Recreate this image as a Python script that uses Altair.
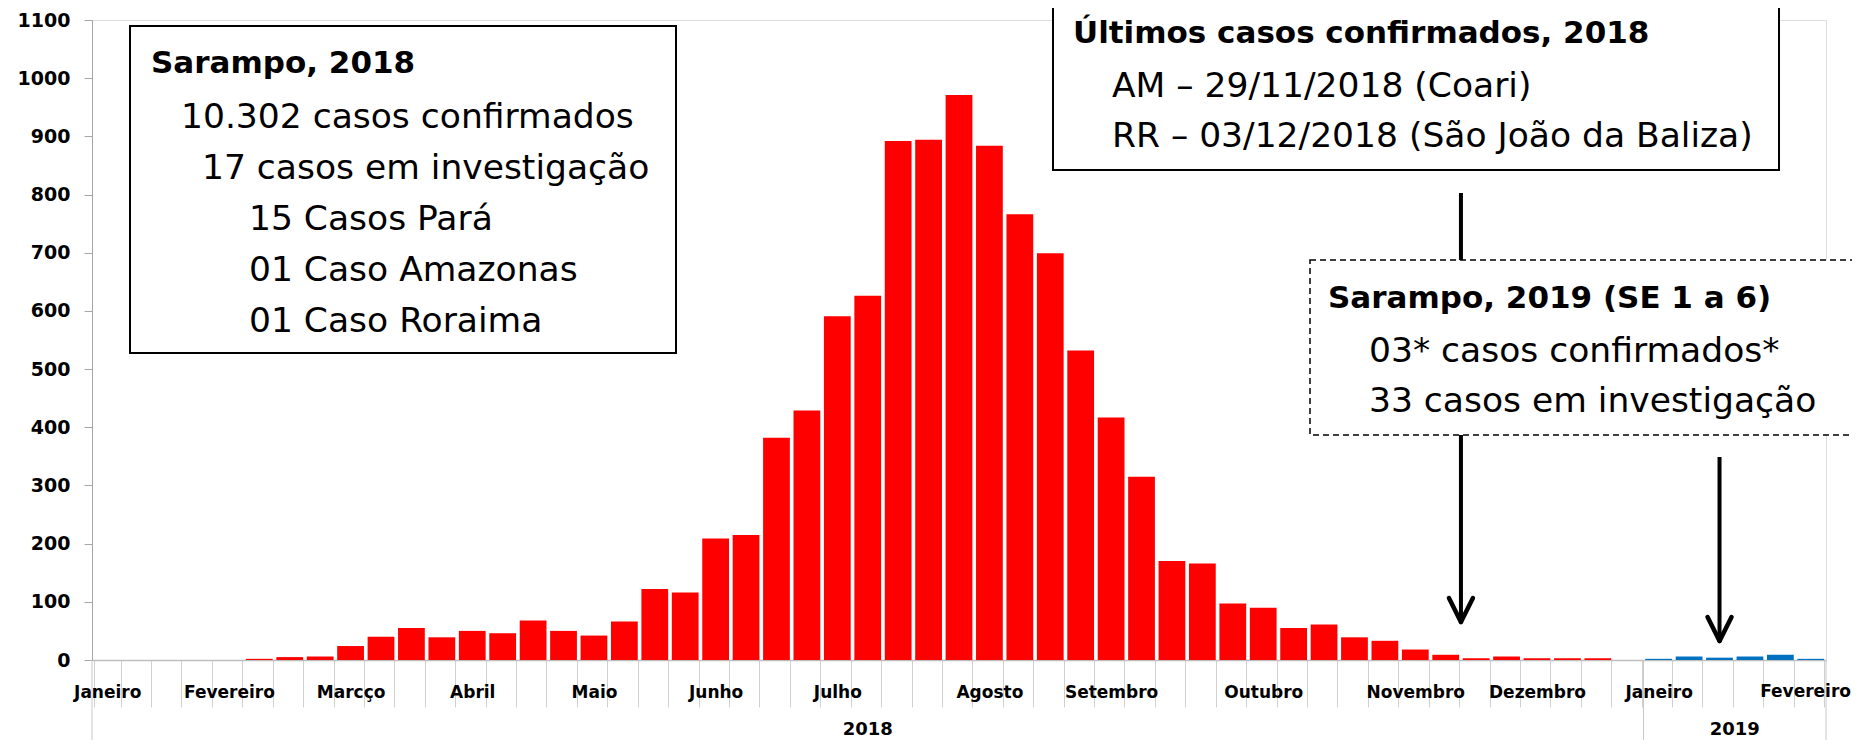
import altair as alt
import pandas as pd

# ---------------- data ----------------
cases_2018 = [0, 0, 0, 0, 0, 2, 5, 6, 24, 40,
              55, 39, 50, 46, 68, 50, 42, 66, 122, 116,
              209, 215, 382, 429, 591, 626, 892, 894, 971, 884,
              766, 699, 532, 417, 315, 170, 166, 97, 90, 55,
              61, 39, 33, 18, 9, 3, 6, 3, 3, 3, 0]
cases_2019 = [2, 6, 4, 6, 9, 2]

month_names_2018 = ["Janeiro", "Fevereiro", "Marcço", "Abril", "Maio", "Junho",
                    "Julho", "Agosto", "Setembro", "Outubro", "Novembro", "Dezembro"]
month_pos_2018 = [0, 4, 8, 12, 16, 20, 24, 29, 33, 38, 43, 47]
month_names_2019 = ["Janeiro", "Fevereiro"]
month_pos_2019 = [0, 5]

years = ["2018", "2019"]
year_colors = ["#FF0000", "#0070C0"]
y_ticks = list(range(0, 1101, 100))

box1_lines = ["Sarampo, 2018", "10.302 casos confirmados", "17 casos em investigação",
              "15 Casos Pará", "01 Caso Amazonas", "01 Caso Roraima"]
box2_lines = ["Últimos casos confirmados, 2018", "AM – 29/11/2018 (Coari)",
              "RR – 03/12/2018 (São João da Baliza)"]
box3_lines = ["Sarampo, 2019 (SE 1 a 6)", "03* casos confirmados*", "33 casos em investigação"]

# ---------------- table ----------------
rows = []
idx = 0
for year, vals, pos, names in [("2018", cases_2018, month_pos_2018, month_names_2018),
                               ("2019", cases_2019, month_pos_2019, month_names_2019)]:
    lab = dict(zip(pos, names))
    for i, v in enumerate(vals):
        rows.append({"key": f"{idx:02d}|{lab.get(i, '')}", "idx": idx, "cases": v, "year": year,
                     "month": lab.get(i, "")})
        idx += 1
df = pd.DataFrame(rows)
keys = list(df["key"])
last_key = keys[-1]

# ---------------- layout ----------------
W, H = 1734, 640
N = len(df)
STEP = W / N
PAD = {"left": 84, "top": 12, "right": 26, "bottom": 80}
FONT = "DejaVu Sans"
XLAB = 17
XLAB_OFF = 24

bars = alt.Chart(df).mark_bar().encode(
    x=alt.X("key:N", sort=keys,
            scale=alt.Scale(paddingInner=0.12, paddingOuter=0.06),
            axis=alt.Axis(title=None,
                          labelExpr=f"datum.value == '{last_key}' ? '' : split(datum.value, '|')[1]",
                          labelAngle=0,
                          labelFont=FONT, labelFontWeight="bold", labelFontSize=XLAB,
                          labelColor="black", labelPadding=XLAB_OFF - 47, labelOverlap=False,
                          labelFlush=False, labelBound=False,
                          tickBand="extent", tickSize=47, tickColor="#d0d0d0", tickWidth=1,
                          domainColor="#bfbfbf", domainWidth=1.5)),
    y=alt.Y("cases:Q", scale=alt.Scale(domain=[0, 1100], nice=False),
            axis=alt.Axis(title=None, values=y_ticks, format="d", grid=False, tickSize=8,
                          tickColor="#a6a6a6", domainColor="#a6a6a6",
                          labelFont=FONT, labelFontWeight="bold", labelFontSize=19,
                          labelColor="black", labelPadding=14)),
    color=alt.Color("year:N", scale=alt.Scale(domain=years, range=year_colors), legend=None),
)

# last month label, kept inside the canvas edge
last_df = df.tail(1)[["month"]].assign(x=W + PAD["right"] - 1)
last_label = alt.Chart(last_df).mark_text(font=FONT, fontWeight="bold", fontSize=XLAB,
                                          align="right", baseline="top", color="black").encode(
    x=alt.X("x:Q", scale=None), y=alt.value(H + XLAB_OFF), text="month:N")

n18 = len(cases_2018)
n19 = len(cases_2019)
bottom_y = H + PAD["bottom"]

# year row separators (y-axis extension, 2018/2019 split, right end)
sep_df = pd.DataFrame({"x": [0, STEP * n18, STEP * (n18 + n19)]})
seps = alt.Chart(sep_df).mark_rule(color="#c8c8c8", strokeWidth=1).encode(
    x=alt.X("x:Q", scale=None), y=alt.value(H), y2=alt.value(bottom_y))

year_df = pd.DataFrame({"year": years, "x": [STEP * n18 / 2, STEP * (n18 + n19 / 2)]})
year_text = alt.Chart(year_df).mark_text(font=FONT, fontWeight="bold", fontSize=18,
                                         baseline="alphabetic", align="center", color="black").encode(
    x=alt.X("x:Q", scale=None), y=alt.value(H + 75), text="year:N")

# arrows
a1x = STEP * 45
a2x = STEP * 53.5
shaft_df = pd.DataFrame({"x": [a1x, a2x], "y": [173, 437], "y2": [600, 618]})
shafts = alt.Chart(shaft_df).mark_rule(color="black", strokeWidth=4).encode(
    x=alt.X("x:Q", scale=None), y=alt.Y("y:Q", scale=None), y2="y2:Q")

head_df = pd.DataFrame({
    "x": [a1x - 12, a1x + 12, a2x - 12, a2x + 12],
    "x2": [a1x, a1x, a2x, a2x],
    "y": [578, 578, 597, 597],
    "y2": [602, 602, 621, 621],
})
heads = alt.Chart(head_df).mark_rule(color="black", strokeWidth=4.5, strokeCap="round").encode(
    x=alt.X("x:Q", scale=None), x2="x2:Q", y=alt.Y("y:Q", scale=None), y2="y2:Q")

# boxes
box_df = pd.DataFrame({"x": [38, 961], "x2": [584, 1687], "y": [6, -30], "y2": [333, 150]})
boxes = alt.Chart(box_df).mark_rect(fill="white", stroke="black", strokeWidth=2).encode(
    x=alt.X("x:Q", scale=None), x2="x2:Q", y=alt.Y("y:Q", scale=None), y2="y2:Q")

dbox_df = pd.DataFrame({"x": [1218], "x2": [1820], "y": [240], "y2": [415]})
dbox = alt.Chart(dbox_df).mark_rect(fill="white", stroke="black", strokeWidth=1.5,
                                    strokeDash=[6, 4]).encode(
    x=alt.X("x:Q", scale=None), x2="x2:Q", y=alt.Y("y:Q", scale=None), y2="y2:Q")

# texts
bold_df = pd.DataFrame({
    "t": [box1_lines[0], box2_lines[0], box3_lines[0]],
    "x": [59, 981, 1236],
    "y": [44, 14, 279],
})
reg_df = pd.DataFrame({
    "t": box1_lines[1:] + box2_lines[1:] + box3_lines[1:],
    "x": [89, 110, 157, 157, 157, 1020, 1020, 1277, 1277],
    "y": [98, 149, 200, 251, 302, 67, 117, 332, 382],
})
bold_text = alt.Chart(bold_df).mark_text(font=FONT, fontWeight="bold", fontSize=31,
                                         align="left", baseline="middle", color="black").encode(
    x=alt.X("x:Q", scale=None), y=alt.Y("y:Q", scale=None), text="t:N")
reg_text = alt.Chart(reg_df).mark_text(font=FONT, fontSize=34.5,
                                       align="left", baseline="middle", color="black").encode(
    x=alt.X("x:Q", scale=None), y=alt.Y("y:Q", scale=None), text="t:N")

chart = alt.layer(
    bars, seps, year_text, last_label, shafts, boxes, dbox, bold_text, reg_text, heads
).resolve_scale(x="independent", y="independent").properties(
    width=W, height=H, padding=PAD,
    autosize=alt.AutoSizeParams(type="none"),
).configure_view(stroke=None).configure(background="white")

chart.save("out.html", embed_options={"renderer": "svg", "actions": False})
